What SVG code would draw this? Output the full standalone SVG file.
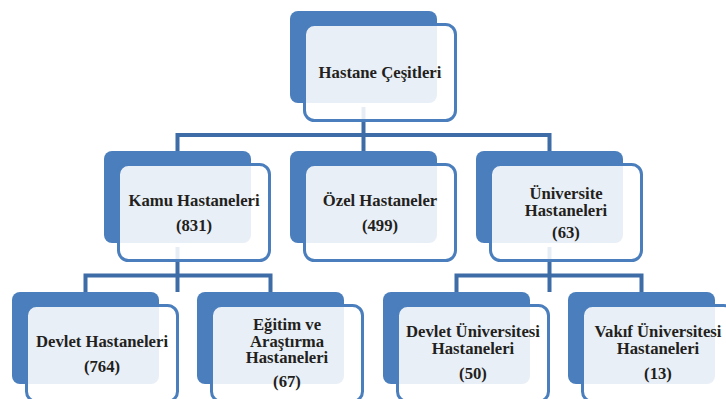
<svg xmlns="http://www.w3.org/2000/svg" width="726" height="399" viewBox="0 0 726 399">
<style>
.back{fill:#4A7EBC}
.front{fill:#FFFFFF;fill-opacity:0.88;stroke:#4A7EBC;stroke-width:3}
.conn{fill:none;stroke:#3D6CA6;stroke-width:4}
.t{font-family:'Liberation Serif','Times New Roman',serif;font-weight:700;font-size:16.7px;fill:#231F20;text-anchor:middle}
</style>
<rect width="726" height="399" fill="#FFFFFF"/>
<g id="connectors">
<path class="conn" d="M363.5 107 V152"/>
<path class="conn" d="M177.5 152 V135 H549.5 V152"/>
<path class="conn" d="M177.5 247 V292"/>
<path class="conn" d="M85.5 293 V275.5 H270.5 V293"/>
<path class="conn" d="M549.5 247 V292"/>
<path class="conn" d="M456.5 293 V275.5 H641.5 V293"/>
</g>
<g id="node-hastane-cesitleri" transform="translate(290,11)">
<rect class="back" x="0" y="0" width="147" height="92" rx="8"/>
<rect class="front" x="14.5" y="13.5" width="151" height="96" rx="10"/>
<text class="t" x="90" y="67">Hastane Çeşitleri</text>
</g>
<g id="node-kamu" transform="translate(104,151)">
<rect class="back" x="0" y="0" width="147" height="92" rx="8"/>
<rect class="front" x="14.5" y="13.5" width="151" height="96" rx="10"/>
<text class="t" x="90" y="55">Kamu Hastaneleri</text>
<text class="t" x="90" y="80">(831)</text>
</g>
<g id="node-ozel" transform="translate(290,151)">
<rect class="back" x="0" y="0" width="147" height="92" rx="8"/>
<rect class="front" x="14.5" y="13.5" width="151" height="96" rx="10"/>
<text class="t" x="90" y="55">Özel Hastaneler</text>
<text class="t" x="90" y="80">(499)</text>
</g>
<g id="node-universite" transform="translate(476,151)">
<rect class="back" x="0" y="0" width="147" height="92" rx="8"/>
<rect class="front" x="14.5" y="13.5" width="151" height="96" rx="10"/>
<text class="t" x="90" y="48">Üniversite<tspan x="90" dy="17">Hastaneleri</tspan></text>
<text class="t" x="90" y="87">(63)</text>
</g>
<g id="node-devlet" transform="translate(12,292)">
<rect class="back" x="0" y="0" width="147" height="92" rx="8"/>
<rect class="front" x="14.5" y="13.5" width="151" height="96" rx="10"/>
<text class="t" x="90" y="55">Devlet Hastaneleri</text>
<text class="t" x="90" y="80">(764)</text>
</g>
<g id="node-egitim" transform="translate(197,292)">
<rect class="back" x="0" y="0" width="147" height="92" rx="8"/>
<rect class="front" x="14.5" y="13.5" width="151" height="96" rx="10"/>
<text class="t" x="90" y="38">Eğitim ve<tspan x="90" dy="16.5">Araştırma</tspan><tspan x="90" dy="16.5">Hastaneleri</tspan></text>
<text class="t" x="90" y="95">(67)</text>
</g>
<g id="node-devlet-universitesi" transform="translate(383,292)">
<rect class="back" x="0" y="0" width="147" height="92" rx="8"/>
<rect class="front" x="14.5" y="13.5" width="151" height="96" rx="10"/>
<text class="t" x="90" y="45">Devlet Üniversitesi<tspan x="90" dy="17">Hastaneleri</tspan></text>
<text class="t" x="90" y="87">(50)</text>
</g>
<g id="node-vakif-universitesi" transform="translate(568,292)">
<rect class="back" x="0" y="0" width="147" height="92" rx="8"/>
<rect class="front" x="14.5" y="13.5" width="151" height="96" rx="10"/>
<text class="t" x="90" y="45">Vakıf Üniversitesi<tspan x="90" dy="17">Hastaneleri</tspan></text>
<text class="t" x="90" y="87">(13)</text>
</g>
</svg>
